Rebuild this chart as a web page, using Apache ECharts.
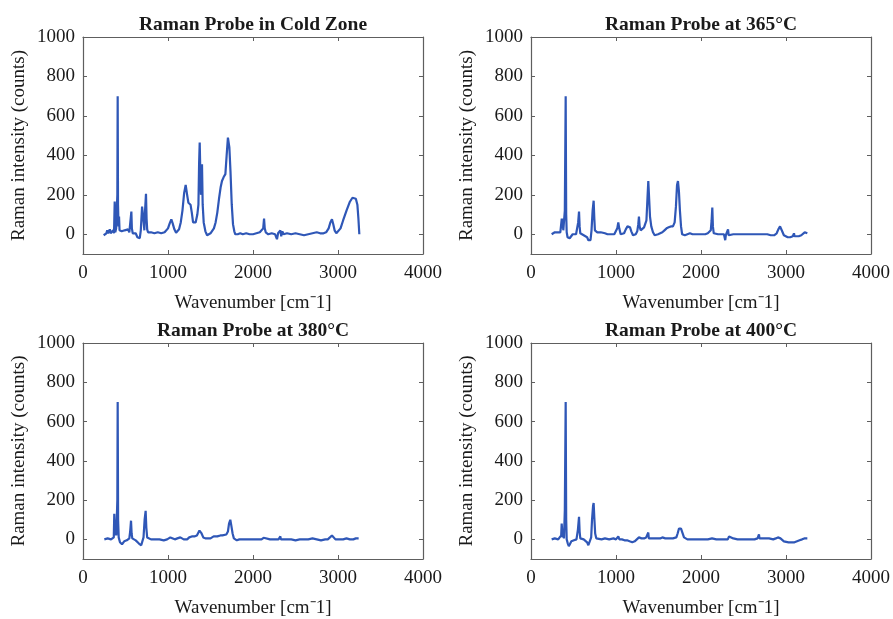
<!DOCTYPE html>
<html>
<head>
<meta charset="utf-8">
<script src="https://cdn.jsdelivr.net/npm/echarts@6/dist/echarts.min.js"></script>
<style>
html,body{margin:0;padding:0;background:#fff;}
#chart{width:893px;height:619px;}
</style>
</head>
<body>
<div id="chart"></div>
<script>
// ---- data (wavenumber [cm-1], intensity [counts]) ----
const panelTitles = ['Raman Probe in Cold Zone', 'Raman Probe at 365\u00B0C', 'Raman Probe at 380\u00B0C', 'Raman Probe at 400\u00B0C'];
const xTicks = [0, 1000, 2000, 3000, 4000];
const yTicks = [0, 200, 400, 600, 800, 1000];

const coldZone = [
[243,-5],[260,0],[275,5],[285,20],[295,5],[305,15],[315,25],[325,5],[340,10],[355,20],[365,5],[373,166],[380,10],[390,30],[398,20],[404,200],[408,700],[412,150],[418,40],[424,90],[430,20],[440,10],[455,15],[470,5],[490,20],[510,15],[530,25],[545,10],[560,20],[569,115],[575,30],[585,5],[600,15],[620,5],[640,-15],[655,-25],[668,-20],[680,20],[695,140],[706,150],[714,60],[722,20],[730,120],[741,205],[748,80],[755,25],[765,10],[780,20],[800,10],[820,15],[840,5],[860,15],[880,10],[900,15],[920,5],[940,15],[960,10],[980,20],[1000,30],[1020,55],[1039,76],[1055,55],[1075,25],[1095,8],[1110,5],[1130,25],[1150,60],[1170,120],[1190,210],[1208,250],[1225,200],[1240,160],[1255,150],[1265,150],[1280,110],[1295,60],[1310,50],[1325,60],[1345,100],[1358,150],[1366,360],[1373,465],[1380,320],[1388,200],[1395,250],[1400,355],[1408,150],[1420,60],[1440,15],[1460,-5],[1480,-5],[1500,5],[1520,15],[1540,30],[1560,60],[1580,110],[1600,180],[1620,240],[1635,270],[1655,290],[1675,305],[1690,400],[1705,490],[1712,495],[1722,440],[1735,320],[1750,150],[1765,50],[1780,15],[1792,0],[1820,0],[1850,5],[1880,0],[1920,5],[1960,0],[2000,0],[2040,5],[2080,10],[2100,20],[2120,30],[2130,80],[2138,30],[2150,10],[2180,0],[2220,5],[2260,0],[2282,-25],[2295,5],[2310,0],[2322,20],[2332,-10],[2345,15],[2360,0],[2400,5],[2450,0],[2500,5],[2550,0],[2600,-5],[2650,0],[2700,5],[2750,10],[2790,5],[2830,5],[2860,10],[2890,30],[2910,60],[2929,76],[2945,50],[2960,20],[2980,5],[3000,10],[3030,30],[3060,70],[3100,120],[3140,165],[3170,185],[3190,190],[3210,180],[3228,150],[3240,80],[3251,0]
];

const probe365 = [
[243,0],[260,5],[280,10],[290,5],[300,15],[315,10],[330,15],[345,10],[355,20],[362,80],[368,30],[374,80],[380,20],[390,10],[398,120],[408,700],[414,100],[420,10],[430,-15],[440,-25],[455,-20],[470,-10],[490,0],[510,5],[530,0],[545,10],[555,60],[565,115],[572,40],[580,5],[600,0],[620,-5],[640,-5],[660,-15],[675,-30],[690,-40],[700,-30],[712,20],[725,120],[737,170],[745,80],[752,20],[765,10],[780,10],[800,15],[820,10],[840,5],[870,5],[900,0],[940,0],[980,0],[1000,5],[1015,30],[1027,60],[1038,30],[1055,0],[1075,-5],[1095,5],[1115,25],[1135,40],[1150,40],[1165,35],[1180,15],[1200,-5],[1215,-10],[1232,0],[1250,15],[1262,50],[1270,90],[1278,40],[1290,20],[1310,25],[1330,35],[1345,40],[1358,70],[1370,180],[1380,270],[1390,180],[1400,90],[1415,40],[1435,10],[1455,-5],[1475,-5],[1495,0],[1520,5],[1545,10],[1570,20],[1595,30],[1620,35],[1645,40],[1670,40],[1690,60],[1705,140],[1718,250],[1729,270],[1740,220],[1752,120],[1765,40],[1778,0],[1790,-10],[1810,-5],[1840,0],[1870,5],[1900,0],[1950,0],[2000,0],[2050,0],[2080,5],[2100,10],[2115,20],[2125,70],[2133,135],[2140,40],[2150,5],[2170,0],[2200,0],[2240,0],[2270,0],[2285,-30],[2292,-5],[2305,0],[2318,25],[2326,-5],[2340,5],[2380,0],[2430,0],[2480,0],[2530,0],[2580,0],[2630,0],[2680,0],[2730,0],[2780,0],[2820,-5],[2860,-5],[2890,5],[2910,25],[2930,40],[2945,35],[2960,10],[2975,-5],[2996,-15],[3020,-15],[3050,-15],[3080,-10],[3094,5],[3100,-10],[3120,-10],[3150,-10],[3180,-5],[3200,0],[3220,10],[3235,10],[3251,5]
];

const probe380 = [
[251,0],[270,0],[290,5],[310,5],[330,0],[350,5],[362,10],[368,130],[373,130],[378,20],[385,80],[392,20],[398,10],[404,200],[408,700],[413,100],[420,10],[435,-15],[450,-25],[459,-25],[470,-20],[485,-10],[500,0],[515,-5],[530,5],[545,5],[555,40],[565,95],[572,30],[580,5],[600,0],[620,-5],[640,-10],[655,-20],[670,-30],[685,-30],[700,-20],[712,10],[725,100],[737,145],[745,60],[755,10],[770,0],[800,0],[850,0],[900,0],[950,-5],[990,0],[1010,5],[1027,10],[1045,0],[1080,0],[1110,5],[1130,10],[1145,10],[1165,5],[1185,0],[1204,-5],[1225,0],[1250,10],[1280,15],[1310,15],[1340,20],[1360,30],[1370,45],[1380,50],[1395,30],[1415,10],[1439,5],[1470,5],[1500,5],[1520,10],[1537,15],[1545,5],[1560,15],[1580,15],[1600,15],[1616,20],[1640,20],[1660,20],[1686,25],[1705,40],[1718,80],[1733,100],[1745,70],[1760,30],[1775,5],[1792,-5],[1810,-5],[1840,0],[1900,0],[1950,0],[2000,0],[2050,0],[2100,0],[2125,8],[2140,0],[2200,0],[2250,0],[2300,0],[2318,5],[2322,15],[2328,0],[2350,0],[2400,0],[2450,0],[2500,-5],[2550,0],[2600,0],[2650,0],[2700,5],[2750,0],[2800,-5],[2850,0],[2880,0],[2905,10],[2929,20],[2950,10],[2970,0],[2990,0],[3020,0],[3060,0],[3100,5],[3140,0],[3180,0],[3210,5],[3230,5],[3243,5]
];

const probe400 = [
[243,0],[260,5],[280,5],[300,0],[320,0],[340,5],[355,20],[361,80],[367,80],[372,10],[380,30],[388,5],[398,150],[408,700],[414,100],[420,0],[432,-20],[445,-35],[455,-35],[465,-25],[475,-10],[490,0],[505,-5],[520,0],[535,0],[545,10],[552,50],[565,115],[572,40],[580,5],[600,0],[620,0],[640,-5],[660,-15],[675,-30],[682,-35],[695,-25],[708,10],[718,100],[730,170],[737,185],[745,110],[755,30],[768,5],[790,0],[830,0],[870,5],[920,0],[970,5],[1000,0],[1015,5],[1027,15],[1040,0],[1070,0],[1100,-5],[1130,-5],[1160,-10],[1192,-15],[1220,-10],[1245,0],[1262,5],[1270,10],[1280,5],[1300,5],[1330,5],[1355,10],[1368,5],[1372,15],[1380,35],[1386,5],[1400,10],[1430,5],[1460,5],[1490,5],[1520,5],[1545,10],[1555,5],[1580,5],[1610,5],[1640,5],[1670,5],[1690,5],[1710,10],[1725,30],[1741,55],[1755,50],[1765,55],[1775,45],[1782,55],[1788,50],[1800,10],[1812,0],[1840,0],[1880,0],[1930,0],[1980,0],[2030,0],[2080,0],[2130,5],[2180,0],[2230,0],[2280,0],[2315,0],[2325,10],[2330,15],[2338,5],[2380,5],[2430,0],[2480,0],[2530,0],[2580,0],[2630,0],[2665,5],[2678,5],[2682,25],[2688,5],[2720,5],[2760,5],[2800,5],[2850,0],[2880,5],[2905,10],[2918,12],[2935,5],[2955,-5],[2975,-10],[2996,-15],[3030,-15],[3070,-15],[3100,-15],[3130,-10],[3160,-5],[3190,0],[3215,5],[3235,5],[3251,5]
];

const panelData = [coldZone, probe365, probe380, probe400];

// ---- layout ----
const boxes = [
  {left: 83, top: 37, width: 340, height: 217},
  {left: 531, top: 37, width: 340, height: 217},
  {left: 83, top: 343, width: 340, height: 216},
  {left: 531, top: 343, width: 340, height: 216}
];
const FONT = '"Liberation Serif", "Times New Roman", serif';
const TEXT = '#1a1a1a';
const FRAME = '#5e5e5e';
const LINE = '#2f57b7';
const plain = v => String(v);

const grids = [], xAxes = [], yAxes = [], series = [], titles = [];
boxes.forEach((b, i) => {
  grids.push({left: b.left, top: b.top, width: b.width, height: b.height, containLabel: false});
  titles.push({
    text: panelTitles[i], left: b.left + b.width / 2, top: b.top - 23, textAlign: 'center', padding: 0,
    textStyle: {fontFamily: FONT, fontWeight: 'bold', fontSize: 19.5, color: TEXT, lineHeight: 22}
  });
  const xBase = {
    type: 'value', gridIndex: i, min: 0, max: 4000, interval: 1000,
    splitLine: {show: false},
    axisLine: {show: true, onZero: false, lineStyle: {color: FRAME, width: 1.2}},
    axisTick: {show: true, inside: true, length: 4, lineStyle: {color: FRAME}}
  };
  xAxes.push(Object.assign({}, xBase, {
    position: 'bottom',
    axisLabel: {show: true, margin: 10, fontFamily: FONT, fontSize: 19, color: TEXT, customValues: xTicks, formatter: plain},
    name: 'Wavenumber [cm\u207B1]', nameLocation: 'middle', nameGap: 40,
    nameTextStyle: {fontFamily: FONT, fontSize: 19, color: TEXT}
  }));
  xAxes.push(Object.assign({}, xBase, {position: 'top', axisLabel: {show: false}}));
  const yBase = {
    type: 'value', gridIndex: i, min: -100, max: 1000, interval: 100,
    splitLine: {show: false},
    axisLine: {show: true, onZero: false, lineStyle: {color: FRAME, width: 1.2}},
    axisTick: {show: true, inside: true, length: 4, lineStyle: {color: FRAME}, customValues: yTicks}
  };
  yAxes.push(Object.assign({}, yBase, {
    position: 'left',
    axisLabel: {show: true, margin: 8, fontFamily: FONT, fontSize: 19, color: TEXT, customValues: yTicks, formatter: plain},
    name: 'Raman intensity (counts)', nameLocation: 'middle', nameGap: 54, nameRotate: 90,
    nameTextStyle: {fontFamily: FONT, fontSize: 19, color: TEXT}
  }));
  yAxes.push(Object.assign({}, yBase, {position: 'right', axisLabel: {show: false}}));
  series.push({
    type: 'line', xAxisIndex: 2 * i, yAxisIndex: 2 * i, data: panelData[i],
    showSymbol: false, symbol: 'none', smooth: false, animation: false,
    lineStyle: {color: LINE, width: 2.2}
  });
});

const chart = echarts.init(document.getElementById('chart'), null, {renderer: 'canvas'});
chart.setOption({
  backgroundColor: '#ffffff',
  animation: false,
  title: titles,
  grid: grids,
  xAxis: xAxes,
  yAxis: yAxes,
  series: series
});
</script>
</body>
</html>
